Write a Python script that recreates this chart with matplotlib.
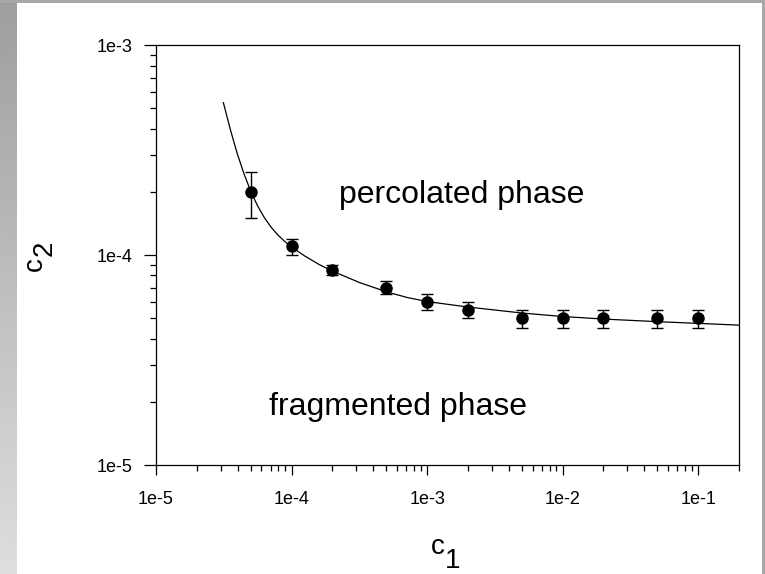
import numpy as np
import matplotlib
matplotlib.use("Agg")
import matplotlib.pyplot as plt
from matplotlib.ticker import LogLocator, FuncFormatter, NullFormatter

plt.rcParams['font.family'] = ['Liberation Sans', 'DejaVu Sans']

# measured critical points
c1_pts = [5e-5, 1e-4, 2e-4, 5e-4, 1e-3, 2e-3, 5e-3, 1e-2, 2e-2, 5e-2, 1e-1]
c2_pts = [2.0e-4, 1.1e-4, 8.5e-5, 7.0e-5, 6.0e-5, 5.5e-5, 5.0e-5, 5.0e-5, 5.0e-5, 5.0e-5, 5.0e-5]
c2_err_lo = [5e-5, 1e-5, 5e-6, 5e-6, 5e-6, 5e-6, 5e-6, 5e-6, 5e-6, 5e-6, 5e-6]
c2_err_hi = [5e-5, 1e-5, 5e-6, 5e-6, 5e-6, 5e-6, 5e-6, 5e-6, 5e-6, 5e-6, 5e-6]

# phase boundary curve
c1_line = [3.14e-5, 3.55e-5, 3.98e-5, 4.47e-5, 5.01e-5, 5.62e-5, 6.31e-5, 7.08e-5,
           7.94e-5, 8.91e-5, 1.0e-4, 1.26e-4, 1.58e-4, 2.0e-4, 3.16e-4, 5.01e-4,
           7.08e-4, 1e-3, 2e-3, 5e-3, 1e-2, 2e-2, 5e-2, 1e-1, 2e-1]
c2_line = [5.33e-4, 3.93e-4, 3.04e-4, 2.43e-4, 2.01e-4, 1.716e-4, 1.507e-4, 1.357e-4,
           1.246e-4, 1.162e-4, 1.094e-4, 9.88e-5, 9.06e-5, 8.40e-5, 7.41e-5, 6.69e-5,
           6.29e-5, 6.01e-5, 5.66e-5, 5.30e-5, 5.10e-5, 4.96e-5, 4.82e-5, 4.73e-5, 4.64e-5]

x_limits = (1e-5, 2e-1)
y_limits = (1e-5, 1e-3)

W, H = 765, 574
fig = plt.figure(figsize=(W / 100, H / 100), dpi=100)
fig.patch.set_facecolor('white')

# gray frame: vertical gradient strip on the left, plain strips top and right
bg = fig.add_axes([0, 0, 1, 1], zorder=-10)
bg.set_xlim(0, W)
bg.set_ylim(H, 0)
bg.axis('off')
grad = np.linspace(0.62, 0.87, 256).reshape(-1, 1)
bg.imshow(grad, cmap='gray', vmin=0, vmax=1, extent=[0, 17, H, 0], aspect='auto')
bg.add_patch(plt.Rectangle((0, 0), W, 3, color='#a8a8a8', lw=0))
bg.add_patch(plt.Rectangle((762, 0), 3, H, color='#a8a8a8', lw=0))

ax = fig.add_axes([156 / W, 1 - 465 / H, (739 - 156) / W, (465 - 45.3) / H])
ax.set_xscale('log')
ax.set_yscale('log')
ax.set_xlim(*x_limits)
ax.set_ylim(*y_limits)

ax.plot(c1_line, c2_line, color='black', lw=0.9, zorder=2)
ax.errorbar(c1_pts, c2_pts, yerr=[c2_err_lo, c2_err_hi], fmt='o', color='black',
            ms=8, capsize=4.5, elinewidth=1, capthick=1, zorder=3)

for s in ax.spines.values():
    s.set_linewidth(0.9)
    s.set_color('black')

fmt = FuncFormatter(lambda v, p: "1e%d" % int(round(np.log10(v))))
ax.xaxis.set_major_locator(LogLocator(base=10, numticks=10))
ax.yaxis.set_major_locator(LogLocator(base=10, numticks=10))
ax.xaxis.set_minor_locator(LogLocator(base=10, subs=np.arange(2, 10), numticks=20))
ax.yaxis.set_minor_locator(LogLocator(base=10, subs=np.arange(2, 10), numticks=20))
ax.xaxis.set_major_formatter(fmt)
ax.yaxis.set_major_formatter(fmt)
ax.xaxis.set_minor_formatter(NullFormatter())
ax.yaxis.set_minor_formatter(NullFormatter())

ax.tick_params(axis='x', which='major', direction='out', length=7.5, width=0.9,
               labelsize=13, pad=11, top=False)
ax.tick_params(axis='x', which='minor', direction='out', length=4.5, width=0.9, top=False)
ax.tick_params(axis='y', which='major', direction='out', length=9, width=0.9,
               labelsize=13, pad=8, right=False)
ax.tick_params(axis='y', which='minor', direction='out', length=4.5, width=0.9, right=False)

# axis titles: letter plus lowered index of the same size
px = lambda x, y: (x / W, 1 - y / H)
fig.text(*px(431, 554), 'c', fontsize=20, ha='left', va='baseline')
fig.text(*px(445, 568), '1', fontsize=20, ha='left', va='baseline')
fig.text(*px(42, 271), 'c', fontsize=20, ha='left', va='baseline',
         rotation=90, rotation_mode='anchor')
fig.text(*px(52, 256), '2', fontsize=20, ha='left', va='baseline',
         rotation=90, rotation_mode='anchor')

ax.text(0.525, 0.643, 'percolated phase', transform=ax.transAxes,
        ha='center', va='center', fontsize=23)
ax.text(0.415, 0.138, 'fragmented phase', transform=ax.transAxes,
        ha='center', va='center', fontsize=23)

fig.savefig('out.png', dpi=100)
